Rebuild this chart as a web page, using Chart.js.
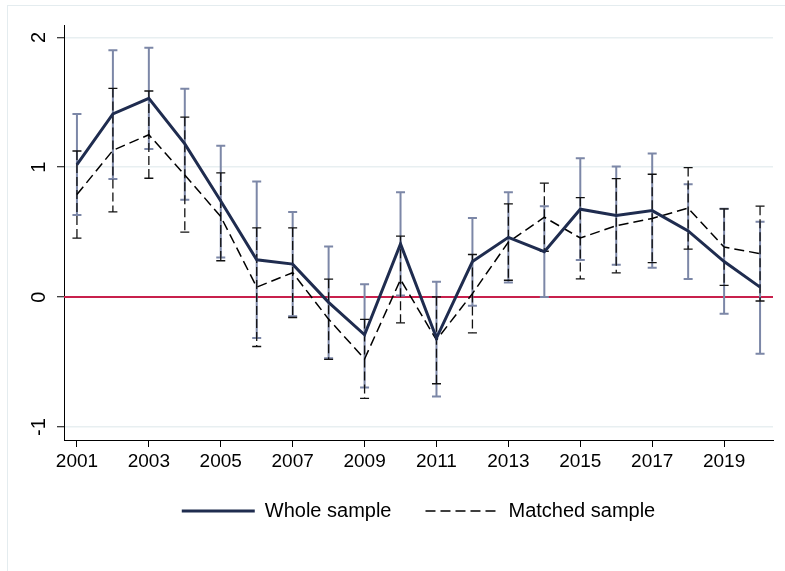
<!DOCTYPE html>
<html>
<head>
<meta charset="utf-8">
<script src="https://cdn.jsdelivr.net/npm/chart.js@4"></script>
<style>
  html, body { margin: 0; padding: 0; background: #fff; }
  #wrap { position: relative; width: 785px; height: 571px; overflow: hidden; }
  #frame { position: absolute; left: 7px; top: 5px; width: 800px; height: 600px;
           border-left: 1px solid #e4ecef; border-top: 1px solid #e4ecef; }
  #c { position: absolute; left: 0; top: 0; }
</style>
</head>
<body>
<div id="wrap">
  <div id="frame"></div>
  <canvas id="c" width="785" height="571"></canvas>
</div>
<script>
// ---- data ----
const years = [2001,2002,2003,2004,2005,2006,2007,2008,2009,2010,2011,2012,2013,2014,2015,2016,2017,2018,2019,2020];
const wholeEst = [1.02,1.41,1.53,1.18,0.74,0.287,0.254,-0.04,-0.29,0.41,-0.315,0.274,0.46,0.35,0.677,0.628,0.666,0.51,0.274,0.077];
const wholeLow = [0.633,0.91,1.14,0.75,0.305,-0.315,-0.148,-0.47,-0.695,0.013,-0.765,-0.067,0.113,0.0,0.285,0.25,0.227,0.14,-0.128,-0.436];
const wholeHigh = [1.41,1.90,1.92,1.605,1.166,0.89,0.656,0.39,0.10,0.807,0.118,0.61,0.807,0.70,1.069,1.005,1.105,0.869,0.68,0.58];
const matchedEst = [0.79,1.13,1.25,0.94,0.62,0.077,0.188,-0.17,-0.476,0.135,-0.33,0.027,0.424,0.615,0.455,0.55,0.606,0.685,0.385,0.335];
const matchedLow = [0.454,0.656,0.915,0.5,0.28,-0.38,-0.157,-0.48,-0.78,-0.198,-0.667,-0.275,0.13,0.353,0.14,0.187,0.266,0.37,0.09,-0.03];
const matchedHigh = [1.125,1.607,1.587,1.385,0.956,0.533,0.533,0.138,-0.172,0.469,0.002,0.328,0.718,0.877,0.766,0.912,0.946,0.997,0.68,0.70];
const xTickYears = [2001,2003,2005,2007,2009,2011,2013,2015,2017,2019];
const yTickValues = [-1,0,1,2];
const seriesNames = ['Whole sample','Matched sample'];
const referenceValue = 0;

// ---- styles ----
const NAVY = '#1f2c4f';
const CI_NAVY = '#7c87a7';
const RED = '#c8204c';
const FONT = 'Liberation Sans, Arial, sans-serif';
const DASH = [10, 5];

const ciPlugin = {
  id: 'ciAndRef',
  beforeDatasetsDraw(chart) {
    const {ctx, chartArea, scales: {x, y}} = chart;
    ctx.save();
    // reference line at zero
    ctx.strokeStyle = RED;
    ctx.lineWidth = 2;
    ctx.beginPath();
    const y0 = y.getPixelForValue(referenceValue);
    ctx.moveTo(chartArea.left, y0);
    ctx.lineTo(chartArea.right, y0);
    ctx.stroke();

    const cap = 4.5;
    function bars(lo, hi, color, width, dash) {
      ctx.strokeStyle = color;
      ctx.lineWidth = width;
      years.forEach((yr, i) => {
        const px = x.getPixelForValue(yr);
        const pLo = y.getPixelForValue(lo[i]);
        const pHi = y.getPixelForValue(hi[i]);
        ctx.setLineDash(dash);
        ctx.beginPath();
        ctx.moveTo(px, pHi);
        ctx.lineTo(px, pLo);
        ctx.stroke();
        ctx.setLineDash([]);
        ctx.beginPath();
        ctx.moveTo(px - cap, pHi); ctx.lineTo(px + cap, pHi);
        ctx.moveTo(px - cap, pLo); ctx.lineTo(px + cap, pLo);
        ctx.stroke();
      });
    }
    bars(wholeLow, wholeHigh, CI_NAVY, 2, []);
    bars(matchedLow, matchedHigh, '#111', 1.3, [9, 4]);
    ctx.restore();
  }
};

new Chart(document.getElementById('c'), {
  type: 'line',
  data: {
    datasets: [
      {
        label: seriesNames[0],
        data: years.map((yr, i) => ({x: yr, y: wholeEst[i]})),
        borderColor: NAVY,
        borderWidth: 3,
        pointRadius: 0,
        tension: 0,
        fill: false
      },
      {
        label: seriesNames[1],
        data: years.map((yr, i) => ({x: yr, y: matchedEst[i]})),
        borderColor: '#000',
        borderWidth: 1.5,
        borderDash: DASH,
        pointRadius: 0,
        tension: 0,
        fill: false
      }
    ]
  },
  plugins: [ciPlugin],
  options: {
    responsive: false,
    animation: false,
    devicePixelRatio: 1,
    layout: { padding: { left: 0, right: 12, top: 25, bottom: 40 } },
    plugins: {
      tooltip: { enabled: false },
      legend: {
        position: 'bottom',
        align: 'center',
        fullSize: false,
        labels: {
          usePointStyle: true,
          pointStyleWidth: 73,
          padding: 34,
          color: '#000',
          font: { family: FONT, size: 20 },
          generateLabels() {
            return [
              { text: seriesNames[0], pointStyle: 'line', strokeStyle: NAVY, fillStyle: NAVY,
                lineWidth: 3, lineDash: [], hidden: false, datasetIndex: 0, fontColor: '#000' },
              { text: seriesNames[1], pointStyle: 'line', strokeStyle: '#000', fillStyle: '#000',
                lineWidth: 1.5, lineDash: DASH, hidden: false, datasetIndex: 1, fontColor: '#000' }
            ];
          }
        }
      }
    },
    scales: {
      x: {
        type: 'linear',
        min: 2000.64,
        max: 2020.36,
        afterBuildTicks(scale) { scale.ticks = xTickYears.map(v => ({value: v})); },
        afterFit(scale) { scale.height = 27; },
        grid: { drawOnChartArea: false, drawTicks: true, tickLength: 7, tickColor: '#000', tickWidth: 1 },
        border: { display: true, color: '#000', width: 1 },
        ticks: {
          color: '#000',
          padding: 3,
          maxRotation: 0,
          autoSkip: false,
          font: { family: FONT, size: 19 },
          callback: (v) => String(v)
        }
      },
      y: {
        type: 'linear',
        min: -1.1,
        max: 2.095,
        afterBuildTicks(scale) { scale.ticks = yTickValues.map(v => ({value: v})); },
        afterFit(scale) { scale.width = 64; },
        grid: { color: '#e8eff1', lineWidth: 1.5, drawTicks: true, tickLength: 7, tickColor: '#000', tickWidth: 1 },
        border: { display: true, color: '#000', width: 1 },
        ticks: {
          color: '#000',
          padding: 9,
          minRotation: 90,
          maxRotation: 90,
          crossAlign: 'center',
          autoSkip: false,
          font: { family: FONT, size: 20 },
          callback: (v) => String(v)
        }
      }
    }
  }
});
</script>
</body>
</html>
